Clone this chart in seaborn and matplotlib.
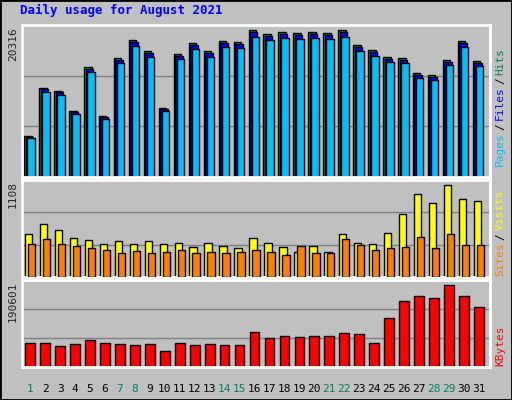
import numpy as np
import matplotlib
matplotlib.use("Agg")
import matplotlib.pyplot as plt
import seaborn as sns

days = np.arange(1, 32)
weekend = [1, 7, 8, 14, 15, 21, 22, 28, 29]

hits = [5630, 12220, 11810, 9060, 15100, 8380, 16340, 18810, 17300, 9470, 16890, 18400,
        17300, 18670, 18540, 20180, 19630, 19910, 19770, 19910, 19770, 20180, 18120, 17440,
        16480, 16340, 14280, 14000, 16060, 18670, 15930]
files = [h * 0.985 for h in hits]
pages = [h * 0.955 for h in hits]

visits = [510, 630, 560, 460, 440, 390, 430, 390, 430, 390, 410, 355, 400, 370, 345,
          460, 410, 355, 300, 370, 300, 510, 410, 390, 520, 750, 990, 880, 1100, 930, 900]
sites = [390, 450, 390, 370, 340, 320, 285, 310, 285, 300, 320, 285, 300, 285, 300,
         320, 300, 265, 370, 285, 285, 450, 380, 320, 345, 360, 480, 345, 510, 380, 380]

kbytes = [55800, 55800, 48800, 53450, 62750, 55800, 53450, 51100, 53450, 37200, 55800, 51100,
          53450, 51100, 51100, 81300, 67400, 72000, 69700, 72000, 72000, 79000, 76700, 55800,
          113900, 153400, 165000, 160400, 190600, 165000, 139400]

BG = "#C0C0C0"
sns.set_theme(style="white")
plt.rcParams["font.family"] = ["DejaVu Sans Mono", "DejaVu Sans"]

fig = plt.figure(figsize=(5.12, 4.0), dpi=100, facecolor=BG)
fig.patches.append(plt.Rectangle((0, 0), 1, 1, transform=fig.transFigure,
                                 fill=False, edgecolor="black", lw=2))


def panel(bottom, top):
    ax = fig.add_axes([22 / 512, 1 - bottom / 400, 468 / 512, (bottom - top) / 400])
    ax.set_facecolor(BG)
    for s in ax.spines.values():
        s.set_color("white")
        s.set_linewidth(2)
    return ax


def grid(ax, top):
    for f in (1 / 3, 2 / 3):
        ax.axhline(top * f, color="#808080", lw=1, zorder=0)


# Pages / Files / Hits
ax1 = panel(177, 25)
top1 = 20316 * 152 / 148
grid(ax1, top1)
for vals, off, col in ((hits, -0.15, "#00805F"), (files, -0.05, "#0000FF"), (pages, 0.05, "#00BFFF")):
    sns.barplot(x=days + off, y=vals, native_scale=True, width=0.5, color=col,
                edgecolor="black", linewidth=1, saturation=1, ax=ax1, zorder=2)
ax1.set_ylim(0, top1)

# Sites / Visits
ax2 = panel(277, 180)
top2 = 1108 * 97 / 93
grid(ax2, top2)
sns.barplot(x=days - 0.1, y=visits, native_scale=True, width=0.5, color="#FFFF00",
            edgecolor="black", linewidth=1, saturation=1, ax=ax2, zorder=2)
sns.barplot(x=days + 0.1, y=sites, native_scale=True, width=0.5, color="#FF8000",
            edgecolor="black", linewidth=1, saturation=1, ax=ax2, zorder=3)
ax2.set_ylim(0, top2)

# KBytes
ax3 = panel(367, 280)
top3 = 190601 * 87 / 82
grid(ax3, top3)
sns.barplot(x=days, y=kbytes, native_scale=True, width=0.65,
            color="#FF0000", edgecolor="black", linewidth=1, saturation=1, ax=ax3, zorder=2)
ax3.set_ylim(0, top3)

for a in (ax1, ax2, ax3):
    a.set_xlim(0.45, 31.75)
    a.set_xlabel("")
    a.set_ylabel("")
    a.set_xticks([])
    a.set_yticks([])

fig.text(20 / 512, 1 - 10 / 400, "Daily usage for August 2021", color="#0000FF",
         fontsize=9, fontweight="bold", va="center")
for y, s in ((27, "20316"), (181, "1108"), (282, "190601")):
    fig.text(13 / 512, 1 - y / 400, s, rotation=90, fontsize=8, va="top", ha="center")

for d in days:
    x = (22 + (d - 0.45) / 31.3 * 468) / 512
    fig.text(x, 1 - 389 / 400, str(d), ha="center", va="center", fontsize=8,
             color="#00805F" if d in weekend else "black")


def side(y0, parts):
    # stack rotated words from the bottom upward
    y = 1 - y0 / 400
    for txt, col in parts:
        fig.text(500 / 512, y, txt, rotation=90, color=col, fontsize=8,
                 ha="center", va="bottom")
        y += (len(txt) * 6.6 + 3) / 400


side(166, [("Pages", "#00BFFF"), ("/", "black"), ("Files", "#0000FF"), ("/", "black"), ("Hits", "#00805F")])
side(276, [("Sites", "#FF8000"), ("/", "black"), ("Visits", "#FFFF00")])
side(366, [("KBytes", "#FF0000")])

fig.savefig("out.png", dpi=100, facecolor=BG)
